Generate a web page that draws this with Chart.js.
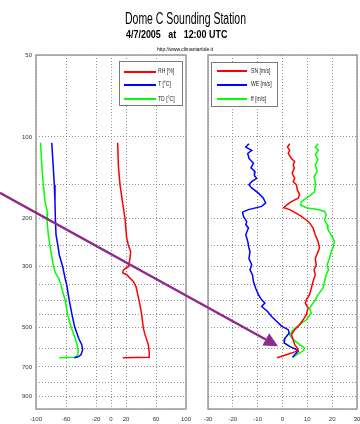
<!DOCTYPE html>
<html><head><meta charset="utf-8">
<script src="https://cdn.jsdelivr.net/npm/chart.js@4.4.1/dist/chart.umd.min.js"></script>
<style>
html,body{margin:0;padding:0;background:#fff;width:360px;height:424px;overflow:hidden;}
#wrap{position:relative;width:360px;height:424px;}
canvas{position:absolute;left:0;top:0;}
.t{position:absolute;white-space:pre;font-family:"Liberation Sans",Arial,sans-serif;color:#000;line-height:1;transform-origin:center center;}
.lg{position:absolute;background:#fff;border:1px solid #7a7a7a;box-sizing:border-box;z-index:5;}
.lg .ln{position:absolute;height:2px;}
.lg .tx{position:absolute;font-family:"Liberation Sans",Arial,sans-serif;font-size:6.5px;white-space:pre;line-height:1;transform-origin:left center;transform:scaleX(0.78);color:#222;}
</style>
</head><body>
<div id="wrap">
  <canvas id="cL" width="360" height="424"></canvas>
  <canvas id="cR" width="360" height="424"></canvas>
  <div class="t" id="t1" style="font-size:16px;top:10.5px;" data-cx="185.5" data-w="121"></div>
  <div class="t" id="t2" style="font-size:10px;font-weight:bold;top:29.6px;" data-cx="176.5" data-w="101"></div>
  <div class="t" id="t3" style="font-size:6px;top:46px;" data-cx="185" data-w="56"></div>
  <div class="lg" id="lgL" style="left:119px;top:61px;width:64px;height:45px;"></div>
  <div class="lg" id="lgR" style="left:211px;top:62px;width:67px;height:45px;"></div>
</div>
<script>
// ---- text ----
const title1 = "Dome C Sounding Station";
const title2 = "4/7/2005   at   12:00 UTC";
const title3 = "http://www.climantartide.it";

// ---- axes ----
const yGrid = [50,100,150,200,250,300,350,400,450,500,600,700,800,900,1000];
const yLabels = [50,100,200,300,500,700,900];
const xTicksLeft = [-100,-60,-20,0,20,60,100];
const xTicksRight = [-30,-20,-10,0,10,20,30];

// ---- left panel: RH, T, TD vs pressure (hPa) ----
const rhLabel = "RH [%]", tLabel = "T [\u00B0C]", tdLabel = "TD [\u00B0C]";
const rhPres = [105,127,150,181,200,235,249,264,280,300,308,316,321,340,355,403,450,502,533,580,620,645,648];
const rhVals = [8.9,9.8,12,16.4,18.7,20.9,23,26.2,25.3,23,16.4,15.6,20.9,29.8,33.3,37.8,40.9,43,45.3,49.8,51,51,15.6];
const tPres = [105,130,150,173,198,229,249,271,300,330,350,400,450,500,551,580,605,632,644,648];
const tVals = [-79,-76.9,-75.6,-74.7,-74.2,-73.3,-71,-69,-64.4,-61.3,-59,-55.6,-52,-48.4,-43,-39,-37.8,-40,-44.4,-49];
const tdPres = [105,130,150,173,191,202,229,256,287,300,317,330,350,400,450,500,551,580,614,632,646,648];
const tdVals = [-94,-92,-90.3,-88,-84.4,-85.3,-83.6,-80.9,-77.8,-76.4,-74,-69.8,-66.7,-61,-57.8,-53.3,-47.6,-45.3,-43.6,-44.4,-47.6,-69];

// ---- right panel: SN, WE, ff vs pressure (hPa) ----
const snLabel = "SN [m/s]", weLabel = "WE [m/s]", ffLabel = "ff [m/s]";
const snPres = [106,109,112,115,120,123,127,130,136,142,146,150,157,163,168,173,178,182,185,191,196,202,207,216,229,242,256,264,280,295,308,321,340,360,380,397,408,426,450,470,490,511,533,556,580,597,610,623,637,648];
const snVals = [2.9,2,2.9,2.3,3.6,4.9,4.3,4.8,3.9,4.9,4.3,5.6,6,6.9,6.3,3.6,1.6,0.5,2.9,5.6,7.6,9.6,10.9,12.3,13.2,14.3,14.9,14.3,13.2,13.6,12.7,13.2,12.3,11.6,10.9,9.6,9.2,10.3,9.6,8.3,6.9,4.9,3.6,4.3,4.9,6,6.3,3.6,0.3,-2.2];
const wePres = [106,109,112,115,120,125,130,134,139,142,146,150,154,161,168,175,180,185,189,196,205,210,216,229,242,256,264,280,295,308,321,340,360,380,397,408,420,438,457,476,496,511,526,551,572,589,605,614,632,646];
const weVals = [-13.5,-14.8,-12.4,-14,-13.5,-11.7,-12.7,-11.1,-11.3,-10.4,-12.4,-13.5,-12.4,-9.7,-7.7,-6.8,-8.4,-13.7,-16.1,-15.7,-14.4,-14.8,-13.7,-14.8,-14,-13.5,-13.1,-13.5,-12.4,-13.1,-12.1,-11.7,-10.8,-9.7,-8.4,-7.1,-8.4,-6,-4.4,-2.4,-0.4,2.3,2.7,0.9,0.7,2.9,5.6,6.3,4.9,4];
const ffPres = [106,109,112,116,121,127,134,140,146,152,159,163,168,173,178,182,185,188,193,202,210,219,229,242,256,264,280,295,308,321,340,360,380,397,408,426,444,470,490,511,533,556,580,597,610,632,646];
const ffVals = [14.3,13.2,14.5,13.2,14.3,13.2,14,12.7,13.2,13.2,12.9,11.6,9.6,7.6,7.3,9.6,14.3,16.9,17.6,16.9,18,18.3,19.6,20.9,20.3,19.6,18.9,18,18.5,17.6,16.9,16.3,14.3,13.2,12.3,10.9,11.6,9.6,6.9,4.3,2.9,4.3,6.9,8.9,8.5,5.6,4.3];

// ---- annotation arrow (in right-panel data coords: [m/s], hPa) ----
const arrowFrom = {x:-113.8, y:160.5};
const arrowTo = {x:-1.8, y:588};

const FONT = '"Liberation Sans Narrow","Liberation Sans",Arial,sans-serif';
const pts = (p,v) => p.map((pp,i)=>({x:v[i], y:pp}));
const ds = (label,p,v,color) => ({label, data:pts(p,v), borderColor:color, backgroundColor:color, borderWidth:1.5, pointRadius:0, showLine:true, tension:0, fill:false});

const frame = {
  id:'frame',
  afterDraw(chart){
    const a = chart.chartArea, c = chart.ctx;
    c.save(); c.strokeStyle = '#9a9a9a'; c.lineWidth = 1.5; c.setLineDash([]);
    c.strokeRect(a.left, a.top, a.right-a.left, a.bottom-a.top);
    c.restore();
  }
};
const arrow = {
  id:'arrow',
  afterDraw(chart){
    const xs = chart.scales.x, ys = chart.scales.y, c = chart.ctx;
    const x0 = xs.getPixelForValue(arrowFrom.x), y0 = ys.getPixelForValue(arrowFrom.y);
    const x1 = xs.getPixelForValue(arrowTo.x), y1 = ys.getPixelForValue(arrowTo.y);
    const ang = Math.atan2(y1-y0, x1-x0), L = 14, W = 7;
    const bx = x1 - L*Math.cos(ang), by = y1 - L*Math.sin(ang);
    c.save(); c.strokeStyle = c.fillStyle = '#8e2a8e'; c.lineWidth = 2.5;
    c.beginPath(); c.moveTo(x0,y0); c.lineTo(bx,by); c.stroke();
    c.beginPath(); c.moveTo(x1,y1);
    c.lineTo(bx + W*Math.sin(ang), by - W*Math.cos(ang));
    c.lineTo(bx - W*Math.sin(ang), by + W*Math.cos(ang));
    c.closePath(); c.fill(); c.restore();
  }
};

function opts(xMin,xMax,xTicks,showY,yW,pad){
  const gridCol = '#8f8f8f';
  return {
    responsive:false, animation:false, events:[],
    layout:{padding:pad},
    plugins:{legend:{display:false}, tooltip:{enabled:false}, title:{display:false}},
    scales:{
      x:{type:'linear', position:'bottom', min:xMin, max:xMax,
        afterBuildTicks:s=>{s.ticks = xTicks.map(v=>({value:v}));},
        afterFit:s=>{s.height = 15; s.paddingLeft = 0; s.paddingRight = 0;},
        grid:{color:gridCol, lineWidth:1, drawTicks:false},
        border:{display:false, dash:[1,2]},
        ticks:{autoSkip:false, maxRotation:0, padding:7, color:'#333', font:{size:6, family:FONT}, callback:v=>String(v)}
      },
      y:{type:'logarithmic', position:'left', reverse:true, min:50, max:1000,
        afterBuildTicks:s=>{s.ticks = yGrid.map(v=>({value:v}));},
        afterFit:s=>{s.width = yW; s.paddingTop = 0; s.paddingBottom = 0;},
        grid:{color:gridCol, lineWidth:1, drawTicks:false},
        border:{display:false, dash:[1,2]},
        ticks:{autoSkip:false, padding:4, color:'#333', font:{size:6, family:FONT},
          callback:v=> (showY && yLabels.includes(v)) ? String(v) : ''}
      }
    }
  };
}

new Chart(document.getElementById('cL'), {
  type:'scatter',
  data:{datasets:[ds(rhLabel,rhPres,rhVals,'#ff0000'), ds(tLabel,tPres,tVals,'#0000ff'), ds(tdLabel,tdPres,tdVals,'#00ff00')]},
  options:opts(-100,100,xTicksLeft,true,36,{left:0,right:174,top:55,bottom:0}),
  plugins:[frame]
});
new Chart(document.getElementById('cR'), {
  type:'scatter',
  data:{datasets:[ds(snLabel,snPres,snVals,'#ff0000'), ds(weLabel,wePres,weVals,'#0000ff'), ds(ffLabel,ffPres,ffVals,'#00ff00')]},
  options:opts(-30,30,xTicksRight,false,18,{left:190,right:3,top:55,bottom:0}),
  plugins:[frame, arrow]
});

// legends
function legend(id, items, lx0, lx1, tx, rows){
  const box = document.getElementById(id);
  items.forEach((it,i)=>{
    const ln = document.createElement('div'); ln.className='ln';
    ln.style.cssText = `left:${lx0}px;width:${lx1-lx0}px;top:${rows[i]-1}px;background:${it[1]};`;
    const t = document.createElement('div'); t.className='tx'; t.textContent = it[0];
    t.style.left = tx+'px'; t.style.top = (rows[i]-3.5)+'px';
    box.appendChild(ln); box.appendChild(t);
  });
}
legend('lgL', [[rhLabel,'#ff0000'],[tLabel,'#0000ff'],[tdLabel,'#00ff00']], 4, 36, 38, [9.5,22.5,37]);
legend('lgR', [[snLabel,'#ff0000'],[weLabel,'#0000ff'],[ffLabel,'#00ff00']], 5, 35, 39, [8,21.5,36]);

// titles
[['t1',title1],['t2',title2],['t3',title3]].forEach(([id,txt])=>{
  const el = document.getElementById(id); el.textContent = txt;
  const w = el.offsetWidth, tw = +el.dataset.w, cx = +el.dataset.cx;
  el.style.left = (cx - w/2)+'px';
  el.style.transform = `scaleX(${tw/w})`;
});
</script>
</body></html>
